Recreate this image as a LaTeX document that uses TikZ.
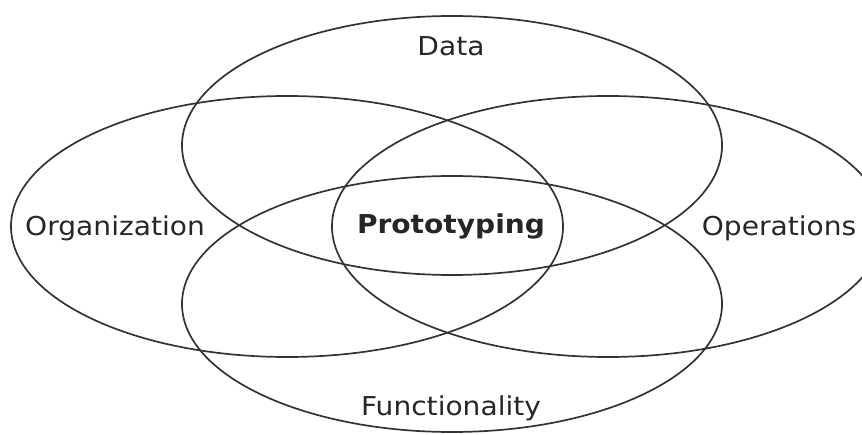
\documentclass[tikz,border=0pt]{standalone}
\usepackage{fontspec}
\setmainfont[FakeStretch=1.08]{DejaVu Sans}
\begin{document}
\begin{tikzpicture}[x=1pt,y=1pt,
  setring/.style={draw=black!80, line width=1.7pt},
  setlabel/.style={anchor=base, text=black!85, inner sep=0pt,
    font=\fontsize{26}{30}\selectfont}]
\useasboundingbox (0,0) rectangle (862,434);
\fill[white] (0,0) rectangle (862,434);
% four overlapping sets
\draw[setring] (452,288.5) ellipse [x radius=270, y radius=129.5];
\draw[setring] (287,207.5) ellipse [x radius=276, y radius=130.5];
\draw[setring] (608,207.5) ellipse [x radius=276, y radius=130.5];
\draw[setring] (452,130)   ellipse [x radius=270, y radius=128];
% labels
\node[setlabel] (data) at (451,378) {Data};
\node[setlabel] (org)  at (115,198) {Organization};
\node[setlabel] (ops)  at (779,198) {Operations};
\node[setlabel] (func) at (451,19)  {Functionality};
\node[setlabel, font=\fontsize{26}{30}\selectfont\bfseries] (proto) at (451,200) {Prototyping};
\end{tikzpicture}
\end{document}
